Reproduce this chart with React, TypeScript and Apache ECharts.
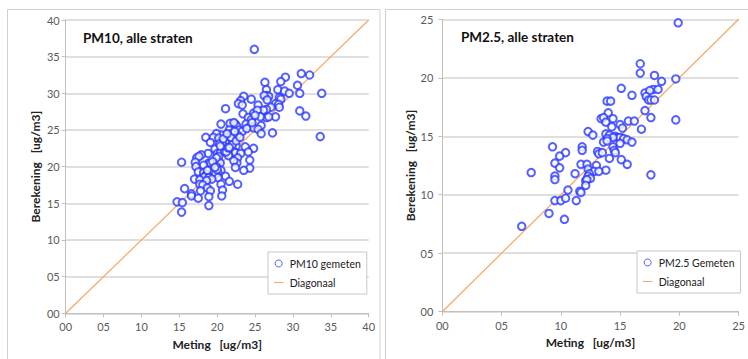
import React, { useEffect, useRef } from "react";
import * as echarts from "echarts";

const FONT = "Lato, 'Open Sans', sans-serif";

const pm10Ticks = [0, 5, 10, 15, 20, 25, 30, 35, 40];
const pm25Ticks = [0, 5, 10, 15, 20, 25];

// PM10: [Meting, Berekening]
const pm10Points: number[][] = [
  [24.9, 36.0], [31.1, 32.7], [32.2, 32.5], [29.0, 32.2], [28.4, 31.6], [26.3, 31.5],
  [30.6, 31.1], [26.5, 30.5], [28.0, 30.5], [28.9, 30.3], [26.5, 29.7], [26.8, 29.6],
  [26.2, 29.7], [29.5, 30.0], [30.9, 30.0], [33.8, 30.0], [23.5, 29.6], [24.5, 29.2],
  [23.1, 29.0], [22.8, 28.6], [23.3, 28.4], [28.2, 29.4], [28.4, 29.2], [26.6, 29.1],
  [21.1, 27.9], [25.4, 28.4], [27.7, 28.6], [28.1, 28.5], [28.2, 28.1], [27.1, 28.1],
  [26.5, 27.8], [26.1, 27.7], [30.9, 27.6], [31.7, 26.9], [27.7, 26.8], [26.5, 26.7],
  [26.8, 26.8], [23.4, 27.2], [24.8, 27.3], [25.3, 27.7], [24.1, 26.7], [25.7, 26.8],
  [24.5, 26.4], [20.5, 25.8], [21.7, 25.9], [22.4, 25.8], [22.6, 25.5], [23.8, 25.8],
  [24.3, 25.5], [24.8, 25.3], [25.8, 25.6], [25.4, 25.1], [25.8, 24.5], [27.3, 24.6],
  [33.6, 24.1], [21.6, 25.0], [21.9, 24.5], [22.9, 25.0], [23.3, 24.8], [22.7, 24.3],
  [20.5, 24.3], [19.9, 24.5], [18.5, 24.0], [19.5, 24.0], [20.2, 23.9], [21.6, 24.1],
  [19.1, 23.3], [20.9, 23.3], [20.3, 23.1], [21.6, 23.4], [22.0, 23.6], [22.5, 22.8],
  [23.7, 22.7], [24.8, 22.5], [19.7, 22.4], [20.6, 22.5], [21.3, 22.3], [21.7, 22.5],
  [22.1, 22.2], [20.0, 21.8], [20.4, 21.9], [21.0, 22.0], [21.7, 21.7], [22.4, 21.9],
  [24.1, 22.0], [23.1, 21.8], [18.8, 21.8], [17.9, 21.6], [17.3, 21.2], [17.6, 21.4],
  [20.2, 21.4], [21.5, 21.5], [22.7, 21.2], [24.3, 20.9], [22.6, 20.5], [22.2, 20.8],
  [17.1, 20.6], [15.3, 20.6], [18.9, 20.5], [19.1, 20.5], [20.0, 20.5], [20.4, 20.5],
  [18.2, 20.2], [17.2, 20.0], [19.9, 20.0], [22.4, 19.9], [24.3, 19.8], [23.5, 19.5],
  [20.5, 19.5], [19.6, 19.3], [17.5, 19.3], [18.2, 19.2], [20.1, 19.2], [19.3, 19.1],
  [19.8, 19.0], [18.6, 18.9], [21.1, 18.7], [18.3, 18.6], [18.9, 18.5], [20.1, 18.5],
  [17.0, 18.3], [19.3, 18.3], [17.7, 18.2], [18.6, 18.1], [21.6, 18.0], [17.7, 17.6],
  [22.7, 17.6], [18.1, 17.5], [20.5, 17.6], [18.7, 17.1], [15.7, 17.0], [17.8, 16.7],
  [19.1, 16.7], [20.7, 16.8], [16.6, 16.3], [16.6, 16.0], [20.6, 16.0], [17.5, 15.7],
  [18.9, 15.9], [14.7, 15.2], [15.4, 15.1], [18.9, 14.7], [15.3, 13.8],
  [21.2, 22.0], [21.4, 22.6], [22.0, 23.0], [21.8, 24.0], [22.3, 24.8], [20.8, 23.8],
  [21.3, 24.5], [22.5, 23.5], [20.4, 22.8], [19.9, 21.2], [19.4, 20.7], [20.0, 19.6],
  [19.7, 19.9], [18.7, 19.5], [21.6, 22.6], [23.0, 24.0], [22.2, 26.0], [23.9, 25.2],
  [24.6, 26.0], [25.0, 27.0]
];

// PM2.5: [Meting, Berekening]
const pm25Points: number[][] = [
  [19.9, 24.7], [16.7, 21.2], [16.7, 20.4], [17.9, 20.2], [19.7, 19.9], [18.5, 19.7],
  [15.1, 19.1], [17.1, 18.7], [17.8, 19.0], [17.5, 18.9], [18.2, 19.0], [17.2, 18.4],
  [16.0, 18.5], [17.4, 18.1], [17.6, 18.1], [17.9, 18.1], [13.9, 18.0], [14.2, 18.0],
  [17.1, 17.2], [14.0, 17.0], [13.4, 16.5], [13.6, 16.6], [14.4, 16.5], [17.6, 16.6],
  [19.7, 16.4], [13.8, 16.2], [15.7, 16.3], [16.2, 16.3], [14.3, 15.8], [15.0, 16.0],
  [15.2, 15.7], [16.8, 15.6], [12.3, 15.4], [12.7, 15.1], [13.8, 15.2], [14.1, 15.1],
  [14.6, 15.0], [14.8, 14.9], [15.0, 14.9], [15.3, 14.8], [14.4, 14.9], [13.9, 14.8],
  [15.6, 14.7], [13.6, 14.5], [13.9, 14.6], [15.0, 14.4], [16.0, 14.5], [9.3, 14.1],
  [11.8, 14.1], [11.8, 13.8], [14.4, 14.1], [14.5, 13.8], [14.6, 13.6], [10.4, 13.6],
  [13.1, 13.7], [13.2, 13.5], [13.5, 13.6], [9.9, 13.3], [14.1, 13.1], [15.1, 13.0],
  [9.5, 12.7], [11.7, 12.6], [12.2, 12.6], [9.9, 12.3], [13.0, 12.5], [15.6, 12.6],
  [12.3, 12.2], [13.8, 12.1], [7.5, 11.9], [11.2, 11.8], [12.8, 12.0], [13.2, 12.0],
  [12.4, 11.8], [12.3, 11.6], [9.5, 11.6], [9.5, 11.3], [12.5, 11.4], [17.6, 11.7],
  [12.1, 11.2], [12.2, 11.3], [12.1, 10.8], [10.6, 10.4], [11.6, 10.3], [11.7, 10.2],
  [9.0, 8.4], [9.5, 9.5], [10.0, 9.5], [10.4, 9.7], [11.3, 9.5], [10.3, 7.9], [6.7, 7.3]
];

const pm10Diagonal = [[0, 0], [40, 40]];
const pm25Diagonal = [[0, 0], [25, 25]];

const BLUE = "#2a3aff";
const ORANGE = "#f7a862";
const GRID_C = "#d4d4d4";
const LABEL_C = "#595959";

const fmt = (v: number) => String(v).padStart(2, "0");

const LINE_ICON = "path://M0,-4M0,-0.2h12v1.4h-12zM0,5";

function makeX(max: number, gridIndex: number) {
  return {
    type: "value",
    gridIndex,
    min: 0,
    max,
    interval: 5,
    name: "Meting   [ug/m3]",
    nameLocation: "middle",
    nameGap: 25,
    nameTextStyle: { fontFamily: FONT, fontWeight: "bold", fontSize: 12, color: "#222" },
    axisLine: { show: true, lineStyle: { color: "#bfbfbf", width: 1 } },
    axisTick: { show: true, length: 4, lineStyle: { color: "#bfbfbf" } },
    axisLabel: { formatter: fmt, fontFamily: FONT, fontSize: 11, color: LABEL_C, margin: 8, showMaxLabel: true },
    splitLine: { show: false },
  };
}

function makeY(max: number, gridIndex: number, margin: number) {
  return {
    type: "value",
    gridIndex,
    min: 0,
    max,
    interval: 5,
    name: "Berekening   [ug/m3]",
    nameLocation: "middle",
    nameGap: 24,
    nameTextStyle: { fontFamily: FONT, fontWeight: "bold", fontSize: 12, color: "#222" },
    axisLine: { show: true, lineStyle: { color: "#bfbfbf", width: 1 } },
    axisTick: { show: true, length: 4, lineStyle: { color: "#bfbfbf" } },
    axisLabel: { formatter: fmt, fontFamily: FONT, fontSize: 11, color: LABEL_C, margin },
    splitLine: { show: true, lineStyle: { color: GRID_C, width: 1.5 } },
  };
}

export default function App() {
  const ref = useRef<HTMLDivElement>(null);
  useEffect(() => {
    if (!ref.current) return;
    const chart = echarts.init(ref.current, null, { renderer: "svg" });
    const legendCommon = {
      orient: "vertical",
      backgroundColor: "#fff",
      borderColor: "#c8c8c8",
      borderWidth: 1,
      padding: [6, 6, 6, 6],
      itemGap: 8,
      itemWidth: 12,
      itemHeight: 7,
      textStyle: { fontFamily: FONT, fontSize: 10.5, color: "#222" },
    };
    const scatterIcon = (name: string) => ({
      name,
      icon: "circle",
      itemStyle: { color: "#ffffff", borderColor: BLUE, borderWidth: 1 },
    });
    const lineIcon = (name: string) => ({
      name,
      icon: LINE_ICON,
      itemStyle: { color: ORANGE, borderWidth: 0 },
    });
    chart.setOption({
      animation: false,
      backgroundColor: "#fff",
      grid: [
        { left: 65.7, top: 20, width: 303, height: 293.3 },
        { left: 442.3, top: 19.3, width: 303.4, height: 292.4 },
      ],
      xAxis: [makeX(40, 0), makeX(25, 1)],
      yAxis: [makeY(40, 0, 6), makeY(25, 1, 9)],
      legend: [
        { ...legendCommon, left: 268, top: 252, data: [scatterIcon("PM10 gemeten"), lineIcon("Diagonaal")] },
        { ...legendCommon, left: 637, top: 251, data: [scatterIcon("PM2.5 Gemeten"), lineIcon("Diagonaal ")] },
      ],
      graphic: [
        { type: "rect", silent: true, z: -10, shape: { x: 7.5, y: 9.5, width: 372.5, height: 360 }, style: { fill: "none", stroke: "#d0d0d0", lineWidth: 1 } },
        { type: "rect", silent: true, z: -10, shape: { x: 385.5, y: 9.5, width: 380, height: 360 }, style: { fill: "none", stroke: "#d0d0d0", lineWidth: 1 } },
        { type: "text", left: 83, top: 31, z: 100, style: { text: "PM10, alle straten", fontFamily: FONT, fontWeight: "bold", fontSize: 13.5, fill: "#111" } },
        { type: "text", left: 461, top: 30, z: 100, style: { text: "PM2.5, alle straten", fontFamily: FONT, fontWeight: "bold", fontSize: 13.5, fill: "#111" } },
      ],
      series: [
        {
          name: "Diagonaal",
          type: "line",
          xAxisIndex: 0,
          yAxisIndex: 0,
          data: pm10Diagonal,
          showSymbol: false,
          symbol: "none",
          lineStyle: { color: ORANGE, width: 1.2 },
          itemStyle: { color: ORANGE },
          z: 1,
        },
        {
          name: "PM10 gemeten",
          type: "scatter",
          xAxisIndex: 0,
          yAxisIndex: 0,
          data: pm10Points,
          symbol: "emptyCircle",
          symbolSize: 7.5,
          itemStyle: { color: BLUE, borderColor: BLUE, borderWidth: 1 },
          z: 3,
        },
        {
          name: "Diagonaal ",
          type: "line",
          xAxisIndex: 1,
          yAxisIndex: 1,
          data: pm25Diagonal,
          showSymbol: false,
          symbol: "none",
          lineStyle: { color: ORANGE, width: 1.2 },
          itemStyle: { color: ORANGE },
          z: 1,
        },
        {
          name: "PM2.5 Gemeten",
          type: "scatter",
          xAxisIndex: 1,
          yAxisIndex: 1,
          data: pm25Points,
          symbol: "emptyCircle",
          symbolSize: 7.5,
          itemStyle: { color: BLUE, borderColor: BLUE, borderWidth: 1 },
          z: 3,
        },
      ],
    });
    return () => chart.dispose();
  }, []);
  return (
    <div
      ref={ref}
      style={{ position: "absolute", left: 0, top: 0, width: 748, height: 359 }}
    />
  );
}
